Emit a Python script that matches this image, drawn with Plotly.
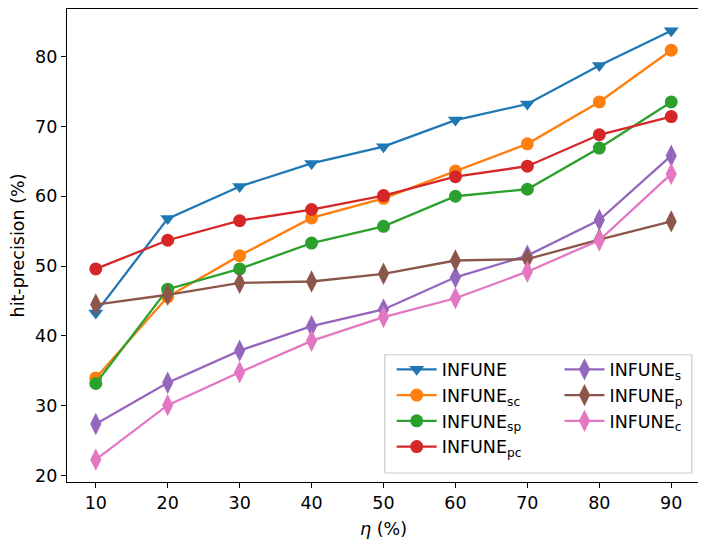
import plotly.graph_objects as go

# data
eta = [10, 20, 30, 40, 50, 60, 70, 80, 90]
infune = [43.3, 56.8, 61.4, 64.7, 67.1, 70.9, 73.2, 78.7, 83.7]
infune_sc = [34.0, 45.6, 51.5, 56.9, 59.7, 63.6, 67.5, 73.5, 80.9]
infune_sp = [33.2, 46.7, 49.6, 53.3, 55.7, 60.0, 61.0, 66.9, 73.5]
infune_pc = [49.6, 53.7, 56.5, 58.1, 60.1, 62.8, 64.3, 68.8, 71.4]
infune_s = [27.4, 33.3, 37.9, 41.4, 43.8, 48.4, 51.5, 56.6, 65.8]
infune_p = [44.5, 45.9, 47.6, 47.8, 48.9, 50.8, 51.0, 53.8, 56.4]
infune_c = [22.3, 30.1, 34.8, 39.3, 42.7, 45.4, 49.2, 53.7, 63.2]

x_ticks = [10, 20, 30, 40, 50, 60, 70, 80, 90]
y_ticks = [20, 30, 40, 50, 60, 70, 80]

# name, values, colour, marker, which legend column
series = [
    ("INFUNE", infune, "#1f77b4", "triangle-down", "legend"),
    ("INFUNE<sub>sc</sub>", infune_sc, "#ff7f0e", "circle", "legend"),
    ("INFUNE<sub>sp</sub>", infune_sp, "#2ca02c", "circle", "legend"),
    ("INFUNE<sub>pc</sub>", infune_pc, "#d62728", "circle", "legend"),
    ("INFUNE<sub>s</sub>", infune_s, "#9467bd", "diamond-tall", "legend2"),
    ("INFUNE<sub>p</sub>", infune_p, "#8c564b", "diamond-tall", "legend2"),
    ("INFUNE<sub>c</sub>", infune_c, "#e377c2", "diamond-tall", "legend2"),
]

font = "DejaVu Sans"
fsize = 17.5

fig = go.Figure()
for name, vals, color, sym, leg in series:
    size = 13 if sym != "diamond-tall" else 16
    fig.add_trace(go.Scatter(
        x=eta, y=vals, name=name, mode="lines+markers",
        line=dict(color=color, width=2.3),
        marker=dict(symbol=sym, size=size, color=color),
        legend=leg,
    ))

axis_common = dict(
    showgrid=False, zeroline=False, automargin=False,
    showline=True, linecolor="black", linewidth=1.2, mirror=True,
    ticks="outside", ticklen=5, tickwidth=1.2, tickcolor="black",
    tickfont=dict(family=font, size=fsize, color="black"),
)

legend_common = dict(
    orientation="v", yanchor="top", xanchor="left",
    bgcolor="rgba(0,0,0,0)", borderwidth=0,
    itemwidth=40, tracegroupgap=0,
    font=dict(family=font, size=fsize),
)

# legend frame, like matplotlib's legend box
fig.add_shape(
    type="rect", xref="paper", yref="paper",
    x0=0.502, x1=0.987, y0=0.019, y1=0.269,
    fillcolor="rgba(255,255,255,0.8)", line=dict(color="#cccccc", width=1.2),
    layer="above",
)

# the page body adds 8px, so the margins are shifted to compensate
fig.update_layout(
    width=706, height=541,
    margin=dict(l=59, r=14, t=1, b=67),
    paper_bgcolor="white", plot_bgcolor="white",
    font=dict(family=font, size=fsize, color="black"),
    xaxis=dict(
        range=[6, 94], tickvals=x_ticks,
        title=dict(text="<i>η</i> (%)", font=dict(family=font, size=fsize), standoff=10),
        **axis_common,
    ),
    yaxis=dict(
        range=[19.1, 86.8], tickvals=y_ticks,
        title=dict(text="hit-precision (%)", font=dict(family=font, size=fsize), standoff=8),
        **axis_common,
    ),
    legend=dict(x=0.513, y=0.276, **legend_common),
    legend2=dict(x=0.778, y=0.276, **legend_common),
)

fig.write_html("out.html")
